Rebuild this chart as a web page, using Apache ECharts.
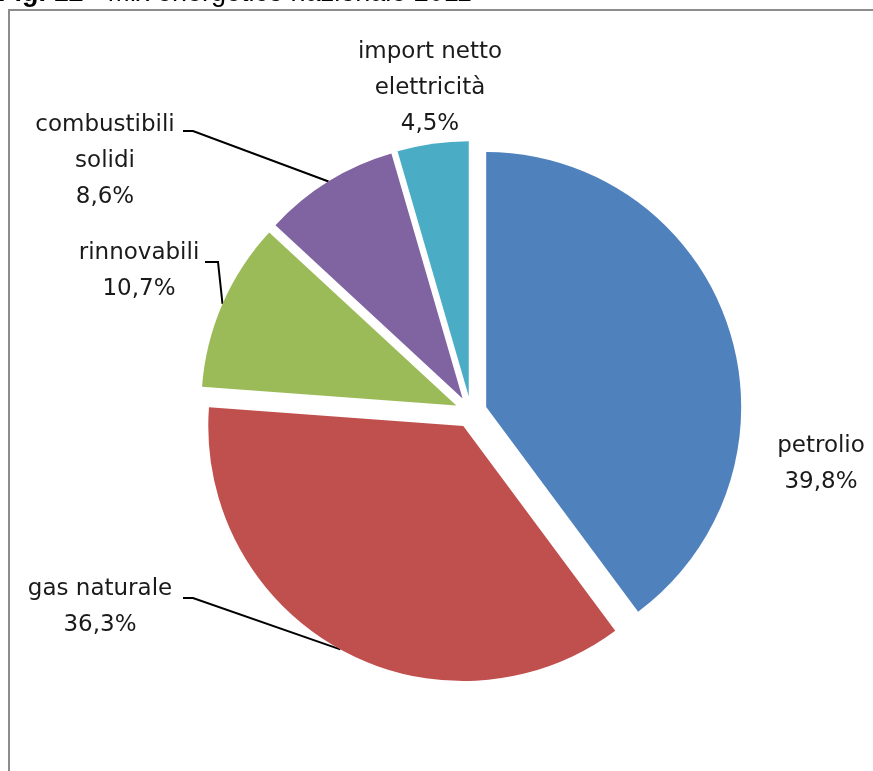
<!DOCTYPE html>
<html>
<head>
<meta charset="utf-8">
<script src="https://cdn.jsdelivr.net/npm/echarts@6/dist/echarts.min.js"></script>
<style>
  html, body { margin: 0; padding: 0; background: #fff; }
  #chart { width: 873px; height: 771px; }
</style>
</head>
<body>
<div id="chart"></div>
<script>
// Energy mix, share of total (%)
const categories = ['petrolio', 'gas naturale', 'rinnovabili', 'combustibili\nsolidi', 'import netto\nelettricità'];
const shares = [39.8, 36.3, 10.7, 8.6, 4.5];
const colors = ['#4F81BD', '#C0504D', '#9BBB59', '#8064A2', '#4BACC6'];

// Pie geometry
const CX = 471, CY = 412, RADIUS = 255, EXPLODE = 16;
const LABEL_FONT = '"DejaVu Sans", sans-serif';
const LABEL_SIZE = 23;

// Label block centres and leader-line tails (elbow x, tail y, tail end x)
const labelCenters = [[821, 464], [100, 607], [139, 271], [105, 161], [430, 88]];
const leaders = [null, [193, 598, 183], [218, 262, 205], [193, 131, 183], null];

const total = shares.reduce((a, b) => a + b, 0);
// mid angle of each slice, clockwise from 12 o'clock (degrees)
const midAngles = [];
let acc = 0;
shares.forEach(v => { midAngles.push((acc + v / 2) / total * 360); acc += v; });

function fmt(v) { return v.toFixed(1).replace('.', ',') + '%'; }

const chart = echarts.init(document.getElementById('chart'), null, { renderer: 'canvas' });

const common = {
  type: 'pie',
  center: [CX, CY],
  radius: RADIUS,
  startAngle: 90,
  clockwise: true,
  avoidLabelOverlap: false,
  emphasis: { disabled: true }
};

chart.setOption({
  animation: false,
  backgroundColor: '#ffffff',
  graphic: [
    {
      type: 'rect',
      z: 0,
      shape: { x: 9, y: 10, width: 900, height: 800 },
      style: { fill: 'none', stroke: '#8c8c8c', lineWidth: 2 }
    },
    {
      type: 'text',
      z: 1,
      x: -2,
      y: 7,
      style: {
        text: '{b|Fig. 12} - Mix energetico nazionale 2011',
        font: '27px "Liberation Sans", Arial, sans-serif',
        fill: '#000',
        verticalAlign: 'bottom',
        rich: { b: { fontWeight: 'bold', fontSize: 27, fontFamily: '"Liberation Sans", Arial, sans-serif' } }
      }
    }
  ],
  series: [
    // exploded slices
    Object.assign({}, common, {
      selectedMode: 'multiple',
      selectedOffset: EXPLODE,
      label: { show: false },
      labelLine: { show: false },
      itemStyle: { borderWidth: 0 },
      data: categories.map((name, i) => ({
        name: name,
        value: shares[i],
        selected: true,
        itemStyle: { color: colors[i] },
        select: { itemStyle: { color: colors[i], borderWidth: 0 } }
      }))
    }),
    // data labels with leader lines
    Object.assign({}, common, {
      silent: true,
      itemStyle: { color: 'rgba(0,0,0,0)' },
      label: {
        show: true,
        position: 'outside',
        fontFamily: LABEL_FONT,
        fontSize: LABEL_SIZE,
        lineHeight: 36,
        color: '#1a1a1a',
        align: 'center',
        formatter: p => p.name + '\n' + fmt(p.value)
      },
      labelLine: { show: true, lineStyle: { color: '#000', width: 2 } },
      labelLayout: function (params) {
        const i = params.dataIndex;
        const out = {
          x: labelCenters[i][0],
          y: labelCenters[i][1],
          align: 'center',
          verticalAlign: 'middle'
        };
        const ld = leaders[i];
        if (ld) {
          const a = midAngles[i] * Math.PI / 180;
          const d = RADIUS + EXPLODE;
          const sx = CX + d * Math.sin(a);
          const sy = CY - d * Math.cos(a);
          out.labelLinePoints = [[sx, sy], [ld[0], ld[1]], [ld[2], ld[1]]];
        }
        return out;
      },
      data: categories.map((name, i) => ({
        name: name,
        value: shares[i],
        labelLine: { show: !!leaders[i] }
      }))
    })
  ]
});
</script>
</body>
</html>
